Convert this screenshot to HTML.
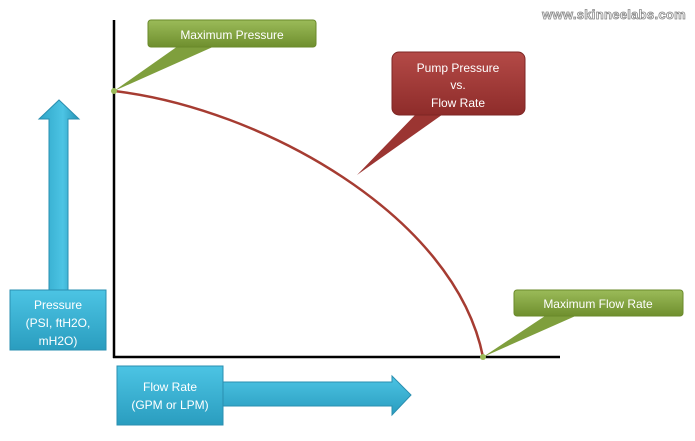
<!DOCTYPE html>
<html><head><style>
body{margin:0;background:#fff;width:695px;height:436px;overflow:hidden;font-family:"Liberation Sans",sans-serif}
</style></head><body>
<svg width="695" height="436" viewBox="0 0 695 436" xmlns="http://www.w3.org/2000/svg">
<defs>
<linearGradient id="g" x1="0" y1="0" x2="0" y2="1"><stop offset="0" stop-color="#9bbb59"/><stop offset="1" stop-color="#6f8f2e"/></linearGradient>
<linearGradient id="r" x1="0" y1="0" x2="0" y2="1"><stop offset="0" stop-color="#b44a47"/><stop offset="1" stop-color="#8e2c2a"/></linearGradient>
<linearGradient id="b" x1="0" y1="0" x2="1" y2="0"><stop offset="0" stop-color="#2fa6c8"/><stop offset="0.6" stop-color="#4cc4e4"/><stop offset="1" stop-color="#2592b4"/></linearGradient>
<linearGradient id="bv" x1="0" y1="0" x2="0" y2="1"><stop offset="0" stop-color="#4cc4e4"/><stop offset="1" stop-color="#2a9dbf"/></linearGradient>
</defs>
<text x="686" y="19" text-anchor="end" font-size="13" fill="#fff" stroke="#888" stroke-width="0.8" font-weight="bold" letter-spacing="0.3">www.skinneelabs.com</text>
<!-- axes -->
<line x1="114" y1="20" x2="114" y2="358" stroke="#000" stroke-width="2.5"/>
<line x1="113" y1="357" x2="560" y2="357" stroke="#000" stroke-width="2.5"/>
<!-- curve -->
<path d="M114 91 C260 108 455 215 483 357" fill="none" stroke="#a63c32" stroke-width="2.5"/>
<!-- max pressure -->
<path d="M178 46 L215 46 L114 91 Z" fill="#7f9f3d"/>
<rect x="148" y="20" width="168" height="27" rx="3" fill="url(#g)" stroke="#6a8a2a"/>
<text x="232" y="39" text-anchor="middle" font-size="12" fill="#fff">Maximum Pressure</text>
<circle cx="114" cy="91" r="3" fill="#9bbb59"/>
<!-- pump pressure -->
<path d="M418 112 L446 112 L357 175 Z" fill="#9b3532"/>
<rect x="392" y="52" width="133" height="63" rx="7" fill="url(#r)" stroke="#7e2624"/>
<text x="458" y="72" text-anchor="middle" font-size="12" fill="#fff">Pump Pressure</text>
<text x="458" y="89" text-anchor="middle" font-size="12" fill="#fff">vs.</text>
<text x="458" y="107" text-anchor="middle" font-size="12" fill="#fff">Flow Rate</text>
<!-- max flow -->
<path d="M548 314 L580 314 L483 357 Z" fill="#7f9f3d"/>
<rect x="514" y="290" width="169" height="26" rx="3" fill="url(#g)" stroke="#6a8a2a"/>
<text x="598" y="308" text-anchor="middle" font-size="12" fill="#fff">Maximum Flow Rate</text>
<circle cx="483" cy="357" r="3" fill="#9bbb59"/>
<!-- pressure arrow -->
<path d="M49 291 L49 119 L39 119 L59 100 L79 119 L68 119 L68 291 Z" fill="url(#b)" stroke="#2a8fb0"/>
<rect x="10" y="290" width="96" height="60" fill="url(#bv)" stroke="#2a8fb0"/>
<text x="58" y="309" text-anchor="middle" font-size="12" fill="#fff">Pressure</text>
<text x="58" y="327" text-anchor="middle" font-size="12" fill="#fff">(PSI, ftH2O,</text>
<text x="58" y="345" text-anchor="middle" font-size="12" fill="#fff">mH2O)</text>
<!-- flow arrow -->
<path d="M222 382 L392 382 L392 376 L411 395 L392 415 L392 406 L222 406 Z" fill="url(#bv)" stroke="#2a8fb0"/>
<rect x="117" y="366" width="106" height="59" fill="url(#bv)" stroke="#2a8fb0"/>
<text x="170" y="391" text-anchor="middle" font-size="12" fill="#fff">Flow Rate</text>
<text x="170" y="409" text-anchor="middle" font-size="12" fill="#fff">(GPM or LPM)</text>
</svg>
</body></html>
